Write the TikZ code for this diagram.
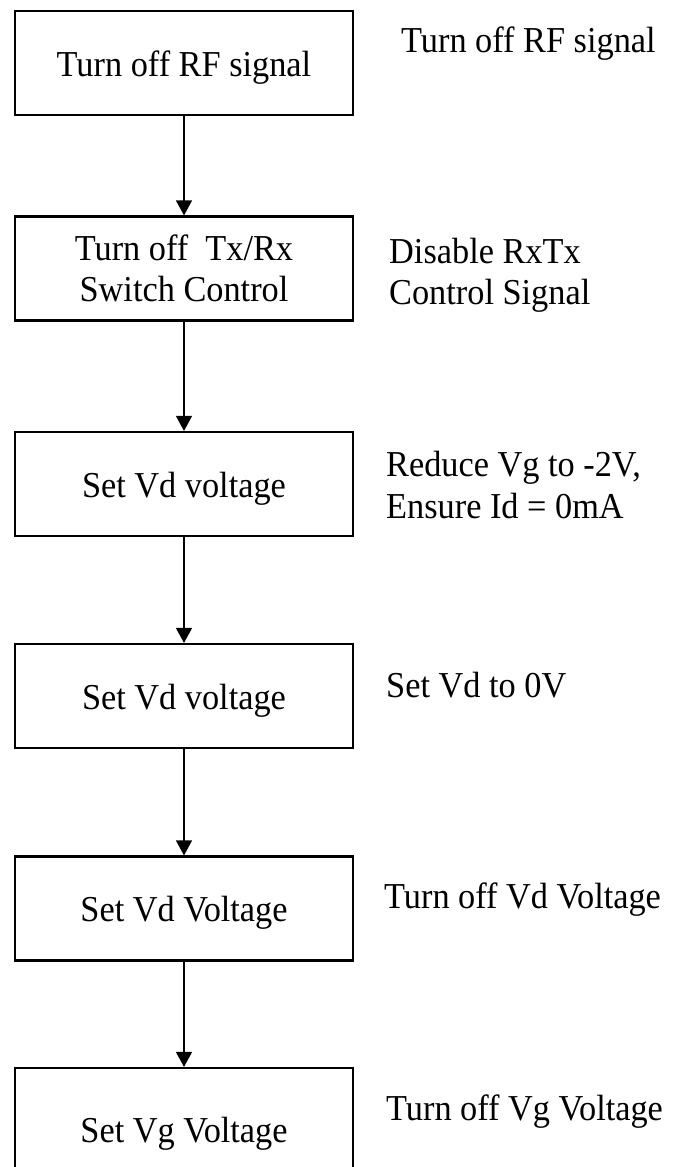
\documentclass[tikz,border=0pt]{standalone}
\usepackage{fontspec}
\setmainfont{Liberation Serif}[FakeStretch=0.94]
\usetikzlibrary{arrows.meta}
\begin{document}
\begin{tikzpicture}[x=1pt,y=-1pt,
  stepbox/.style={draw, line width=2.2pt, minimum width=338pt, minimum height=104pt, inner sep=0pt,
    font=\fontsize{36.5}{40.5}\selectfont, align=center},
  oneline/.style={text height=26pt, text depth=0pt},
  note/.style={inner sep=0pt, font=\fontsize{36.5}{40.5}\selectfont, align=left},
  flow/.style={line width=1.3pt, -{Triangle[width=16pt,length=15pt]}}]
\clip (0,0) rectangle (676,1167);
\fill[white] (0,0) rectangle (676,1167);
% boxes
\node[stepbox, oneline] (b1) at (184,63) {Turn off RF signal};
\node[stepbox] (b2) at (184,268.5) {Turn off\ \ Tx/Rx\\Switch Control};
\node[stepbox, oneline] (b3) at (184,484) {Set Vd voltage};
\node[stepbox, oneline] (b4) at (184,696) {Set Vd voltage};
\node[stepbox, oneline] (b5) at (184,908.5) {Set Vd Voltage};
\node[stepbox, oneline, minimum height=122pt] (b6) at (184,1129) {Set Vg Voltage};
% arrows
\draw[flow] (b1.south) -- (b2.north);
\draw[flow] (b2.south) -- (b3.north);
\draw[flow] (b3.south) -- (b4.north);
\draw[flow] (b4.south) -- (b5.north);
\draw[flow] (b5.south) -- (b6.north);
% notes
\node[note, anchor=base west] (n1) at (401,52) {Turn off RF signal};
\node[note, anchor=north west] (n2) at (389,238) {Disable RxTx\\Control Signal};
\node[note, anchor=north west, font=\fontsize{36.5}{42}\selectfont] (n3) at (386,451) {Reduce Vg to -2V,\\Ensure Id = 0mA};
\node[note, anchor=base west] (n4) at (386,697) {Set Vd to 0V};
\node[note, anchor=base west] (n5) at (384,908) {Turn off Vd Voltage};
\node[note, anchor=base west] (n6) at (386,1120) {Turn off Vg Voltage};
\end{tikzpicture}
\end{document}
